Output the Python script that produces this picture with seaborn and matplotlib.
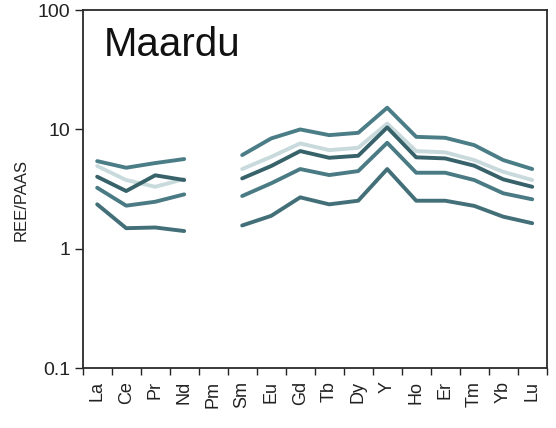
import numpy as np
import pandas as pd
import matplotlib
matplotlib.use("Agg")
import matplotlib.pyplot as plt
import seaborn as sns
from matplotlib.ticker import FixedLocator, NullFormatter, NullLocator

# Rare earth elements (+Y) in the usual spider-diagram order
elements = ["La", "Ce", "Pr", "Nd", "Pm", "Sm", "Eu", "Gd", "Tb", "Dy",
            "Y", "Ho", "Er", "Tm", "Yb", "Lu"]

# PAAS-normalised concentrations per sample (Pm not measured)
s1 = [5.43, 4.78, 5.23, 5.65, np.nan, 6.10, 8.41, 10.0, 8.96, 9.37, 15.2, 8.67, 8.51, 7.39, 5.54, 4.66]
s2 = [4.94, 3.77, 3.31, 3.84, np.nan, 4.66, 5.90, 7.64, 6.71, 7.02, 11.2, 6.59, 6.43, 5.54, 4.42, 3.77]
s3 = [4.02, 3.05, 4.13, 3.77, np.nan, 3.89, 4.94, 6.59, 5.79, 6.02, 10.4, 5.84, 5.72, 4.97, 3.82, 3.31]
s4 = [3.25, 2.30, 2.48, 2.86, np.nan, 2.77, 3.54, 4.66, 4.15, 4.48, 7.73, 4.34, 4.34, 3.77, 2.92, 2.60]
s5 = [2.36, 1.49, 1.51, 1.41, np.nan, 1.57, 1.89, 2.70, 2.36, 2.53, 4.66, 2.53, 2.53, 2.29, 1.86, 1.64]

samples = {"s1": s1, "s2": s2, "s3": s3, "s4": s4, "s5": s5}
colors = {"s1": "#4b7d87", "s2": "#c9dadc", "s3": "#37626a", "s4": "#4a7b84", "s5": "#436f78"}
draw_order = ["s2", "s1", "s3", "s4", "s5"]

rows = []
for name, vals in samples.items():
    for i, (el, v) in enumerate(zip(elements, vals)):
        if np.isnan(v):
            continue
        rows.append({"sample": name, "pos": i, "value": v,
                     "segment": 0 if i < elements.index("Pm") else 1})
df = pd.DataFrame(rows)

sns.set_style("white")
plt.rcParams["font.family"] = ["Liberation Sans", "DejaVu Sans"]

fig = plt.figure(figsize=(5.56, 4.28), dpi=100)
ax = fig.add_axes([0.1487, 0.1395, 0.8346, 0.8371])

for name in draw_order:
    sub = df[df["sample"] == name]
    sns.lineplot(data=sub, x="pos", y="value", units="segment", estimator=None,
                 sort=False, color=colors[name], linewidth=2.8, ax=ax,
                 legend=False)

ax.set_yscale("log")
ax.set_ylim(0.1, 100)
ax.set_xlim(-0.5, len(elements) - 0.5)

ax.yaxis.set_major_locator(FixedLocator([0.1, 1, 10, 100]))
ax.set_yticklabels(["0.1", "1", "10", "100"])
ax.yaxis.set_minor_locator(NullLocator())
ax.tick_params(axis="y", which="major", left=True, length=6, width=1,
               color="#222222", labelsize=14, pad=3, colors="#222222")

ax.set_xticks(range(len(elements)))
ax.set_xticklabels(elements, rotation=90, fontsize=13, color="#222222")
ax.tick_params(axis="x", which="major", length=0, pad=9)
ax.xaxis.set_minor_locator(FixedLocator(np.arange(-0.5, len(elements), 1.0)))
ax.xaxis.set_minor_formatter(NullFormatter())
ax.tick_params(axis="x", which="minor", bottom=True, length=5, width=1, color="#222222")

for side in ["left", "bottom", "top", "right"]:
    ax.spines[side].set_visible(True)
    ax.spines[side].set_color("#2a2a2a")
    ax.spines[side].set_linewidth(1.3)

ax.set_xlabel("")
ax.set_ylabel("REE/PAAS", fontsize=12, color="#222222")
ax.yaxis.set_label_coords(-0.116, 0.47)

ax.text(0.045, 0.955, "Maardu", transform=ax.transAxes, fontsize=29,
        ha="left", va="top", color="#111111")

fig.savefig("out.png", dpi=100)
